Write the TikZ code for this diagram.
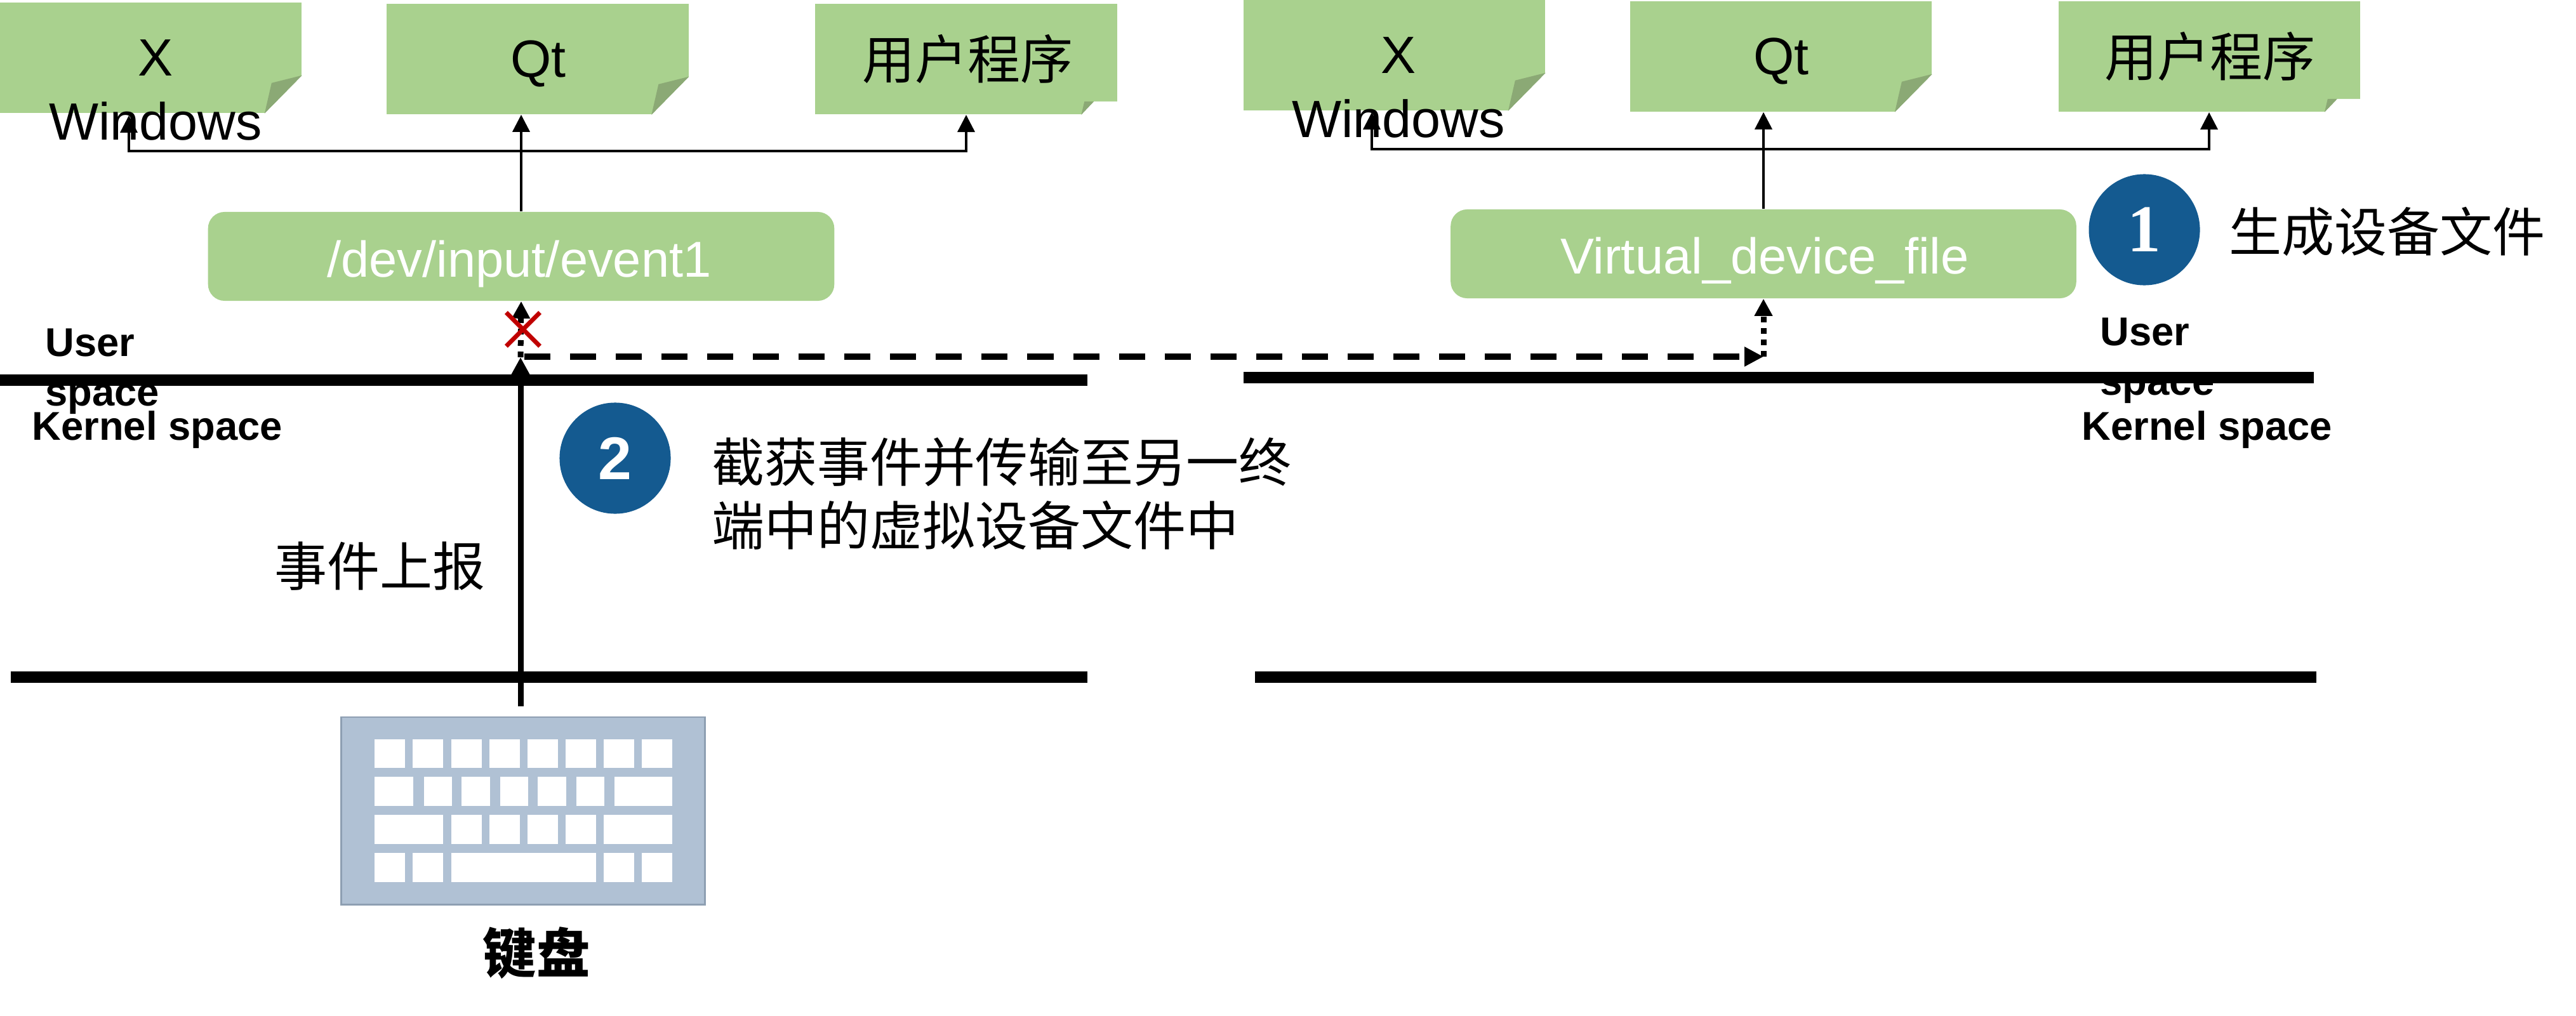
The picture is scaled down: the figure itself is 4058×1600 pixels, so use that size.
\documentclass[tikz,border=0pt]{standalone}
\usepackage{fontspec}
\setmainfont{Liberation Sans}
\newfontfamily\cjk{Noto Sans CJK SC}
\newfontfamily\serifnum{Liberation Serif}
\usetikzlibrary{arrows.meta,shapes.misc}
\definecolor{notegreen}{HTML}{A9D18E}
\definecolor{folddark}{HTML}{8BA975}
\definecolor{badgeblue}{HTML}{145A90}
\definecolor{kbdblue}{HTML}{B0C1D4}
\definecolor{kbdedge}{HTML}{8E9FB2}
\definecolor{crossred}{HTML}{C00000}
\tikzset{
    note/.style={fill=notegreen,inner sep=0pt,minimum width=4.75cm,minimum height=1.74cm},
    pill/.style={fill=notegreen,inner sep=0pt,rounded corners=0.26cm,minimum height=1.4cm},
    notetext/.style={font=\fontsize{23.5}{28.6}\selectfont,align=center,inner sep=0pt},
    notecjk/.style={font=\cjk\fontsize{23.6}{28.2}\selectfont,align=left,inner sep=0pt},
    pilltext/.style={font=\fontsize{22.6}{26}\selectfont,text=white,inner sep=0pt,anchor=base},
    spacetext/.style={font=\bfseries\fontsize{18}{22.2}\selectfont,align=left,inner sep=0pt},
    badge/.style={circle,fill=badgeblue,text=white,inner sep=0pt,minimum size=1.75cm},
    rule/.style={line width=5.1pt},
    tree/.style={line width=1pt,-{Triangle[length=7.7pt,width=7.7pt]}},
    report/.style={line width=2.56pt,-{Triangle[length=7.7pt,width=7.7pt]}},
    dotline/.style={line width=2.56pt,dash pattern=on 0.09cm off 0.09cm,-{Triangle[length=7.7pt,width=7.7pt]}},
    dashline/.style={line width=2.85pt,dash pattern=on 0.41cm off 0.31cm,-{Triangle[length=8.5pt,width=8.3pt]}},
}
\begin{document}
\begin{tikzpicture}[x=0.01cm,y=-0.01cm]
    \useasboundingbox (0,0) rectangle (4058,1600);
    %% text under the rules
    \node[spacetext,anchor=west] (usera) at (71,585) {User\\space};
    \node[spacetext,anchor=west] (kernela) at (50,677) {Kernel space};
    \node[spacetext,anchor=west] (userb) at (3308,568) {User\\space};
    \node[spacetext,anchor=west] (kernelb) at (3279,677) {Kernel space};
    %% rules
    \coordinate (ruleaa) at (0,599);
    \coordinate (ruleab) at (1713,599);
    \coordinate (ruleba) at (1959,595);
    \coordinate (rulebb) at (3645,595);
    \coordinate (ruleca) at (17,1067);
    \coordinate (rulecb) at (1713,1067);
    \coordinate (ruleda) at (1977,1067);
    \coordinate (ruledb) at (3649,1067);
    \draw[rule] (ruleaa) -- (ruleab);
    \draw[rule] (ruleba) -- (rulebb);
    \draw[rule] (ruleca) -- (rulecb);
    \draw[rule] (ruleda) -- (ruledb);
    %% notes
    \node[note] (xa) at (237.5,91) {};
    \node[note] (qta) at (847,93) {};
    \node[note] (usra) at (1522,93) {};
    \node[note] (xb) at (2196.5,87) {};
    \node[note] (qtb) at (2805.5,89) {};
    \node[note] (usrb) at (3480.5,89) {};
    \foreach \n in {xa,qta,xb,qtb} {
        \fill[white] (\n.south east) -- ++(0,-60) -- ++(-59,60) -- cycle;
        \fill[folddark] (\n.south east) ++(0,-60) -- ++(-48,12) -- ++(-11,48) -- cycle;
    }
    \foreach \n in {usra,usrb} {
        \fill[white] (\n.south east) -- ++(0,-21) -- ++(-37,0) -- ++(-20,21) -- cycle;
        \fill[folddark] (\n.south east) ++(-37,-21) -- ++(-15,0) -- ++(-5,21) -- cycle;
    }
    %% labels
    \node[notetext,anchor=center] (xatext) at (245,142) {X\\Windows};
    \node[notetext,anchor=base] (qtatext) at (848,122) {Qt};
    \node[notecjk] (usratext) at (1524,93) {用户程序};
    \node[notetext,anchor=center] (xbtext) at (2203,138) {X\\Windows};
    \node[notetext,anchor=base] (qtbtext) at (2806,118) {Qt};
    \node[notecjk] (usrbtext) at (3481,89) {用户程序};
    %% device boxes
    \node[pill,minimum width=9.86cm] (devbox) at (821,404) {};
    \node[pill,minimum width=9.85cm] (virtbox) at (2778,400) {};
    \node[pilltext] (devtext) at (818,436) {/dev/input/event1};
    \node[pilltext] (virttext) at (2780,431) {Virtual\_device\_file};
    %% arrows up to the programs
    \coordinate (forka) at (devbox.north |- 0,238);
    \coordinate (xtipa) at (203,182);
    \coordinate (usrtipa) at (1522,181);
    \coordinate (forkb) at (virtbox.north |- 0,235);
    \coordinate (xtipb) at (2161,177);
    \coordinate (usrtipb) at (3480,177);
    \draw[tree] (devbox.north) -- (devbox.north |- qta.south);
    \draw[tree] (forka) -| (xtipa);
    \draw[tree] (forka) -| (usrtipa);
    \draw[tree] (virtbox.north) -- (virtbox.north |- qtb.south);
    \draw[tree] (forkb) -| (xtipb);
    \draw[tree] (forkb) -| (usrtipb);
    %% event path
    \coordinate (keytop) at (820,1113);
    \coordinate (hooka) at (820,563);
    \coordinate (dashstart) at (826,562);
    \coordinate (hookb) at (2778,562);
    \draw[report] (keytop) -- (hooka);
    \draw[dotline] (hooka) -- (devbox.south);
    \draw[dashline] (dashstart) -- (hookb);
    \draw[dotline] (hookb) -- (virtbox.south);
    \node[cross out,draw=crossred,line width=2pt,inner sep=0pt,minimum size=0.46cm] (crossa) at (824,519) {};
    %% badges and notes
    \node[badge,font=\bfseries\fontsize{27}{27}\selectfont] (badgetwo) at (969,722) {2};
    \node[badge,font=\serifnum\bfseries\fontsize{30}{30}\selectfont] (badgeone) at (3378,362) {1};
    \node[notecjk,anchor=west] (stepone) at (3511,365) {生成设备文件};
    \node[notecjk,anchor=west] (steptwo) at (1121,778) {截获事件并传输至另一终\\端中的虚拟设备文件中};
    \node[notecjk,anchor=west] (reporttext) at (432,892) {事件上报};
    %% keyboard
    \node[fill=kbdblue,draw=kbdedge,line width=0.8pt,inner sep=0pt,minimum width=5.72cm,minimum height=2.95cm] (kbd) at (824,1277.5) {};
    \foreach \ya/\yb/\row in {
        1165/1210/{590/638,650/698,711/759,771/819,831/879,891/939,951/999,1011/1059},
        1224/1270/{590/651,668/712,727/772,788/832,847/892,908/952,968/1059},
        1284/1330/{590/698,711/759,771/819,831/879,891/939,951/1059},
        1344/1390/{590/638,650/698,711/939,951/999,1011/1059}} {
        \foreach \xa/\xb in \row {
            \fill[white] (\xa,\ya) rectangle (\xb,\yb);
        }
    }
    \node[font=\cjk\bfseries\fontsize{24}{28}\selectfont,inner sep=0pt] (kbdtext) at (845,1502) {键盘};
\end{tikzpicture}
\end{document}
